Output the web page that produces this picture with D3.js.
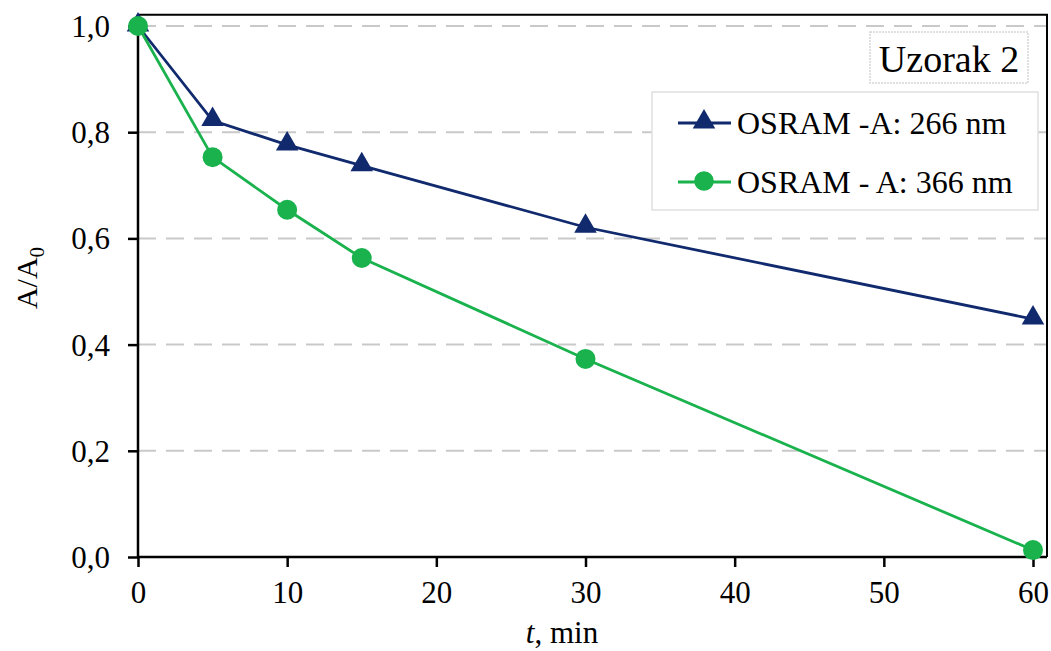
<!DOCTYPE html>
<html>
<head>
<meta charset="utf-8">
<script src="https://cdn.jsdelivr.net/npm/d3@7"></script>
<style>
  body { margin: 0; background: #fff; }
  text { font-family: "Liberation Serif", "Times New Roman", serif; fill: #000; }
</style>
</head>
<body>
<div id="chart"></div>
<script>
// data
const times = [0, 5, 10, 15, 30, 60];
const series266 = [1.0, 0.822, 0.776, 0.737, 0.621, 0.448];
const series366 = [1.0, 0.753, 0.654, 0.563, 0.373, 0.013];
const seriesNames = ["OSRAM -A: 266 nm", "OSRAM - A: 366 nm"];
const xTicks = [0, 10, 20, 30, 40, 50, 60];
const yTicks = [0, 0.2, 0.4, 0.6, 0.8, 1.0];

const WIDTH = 1051;
const HEIGHT = 651;
const LEFT = 138, RIGHT = 1033, TOP = 26, BOTTOM = 557;
const BLUE = "#112a6e";
const GREEN = "#19b24d";

const X_SCALE = d3.scaleLinear().domain([0, 60]).range([LEFT, RIGHT]);
const Y_SCALE = d3.scaleLinear().domain([0, 1]).range([BOTTOM, TOP]);

const svg = d3.select('#chart')
              .append('svg')
              .attr('width', WIDTH)
              .attr('height', HEIGHT);

// gridlines
svg.append('g')
   .selectAll('line')
   .data(yTicks.filter(d => d > 0))
   .enter()
   .append('line')
   .attr('x1', LEFT)
   .attr('x2', 1047)
   .attr('y1', d => Y_SCALE(d))
   .attr('y2', d => Y_SCALE(d))
   .attr('stroke', '#c9c9c9')
   .attr('stroke-width', 2)
   .attr('stroke-dasharray', '18,10');

// plot frame (top and right)
svg.append('path')
   .attr('d', `M${LEFT},${Y_SCALE(1.021)} H1047 V${BOTTOM}`)
   .attr('fill', 'none')
   .attr('stroke', '#000')
   .attr('stroke-width', 2);

// axes
const X_AXIS = d3.axisBottom(X_SCALE)
                 .tickValues(xTicks)
                 .tickSize(10)
                 .tickPadding(14)
                 .tickFormat(d3.format('d'));
const Y_AXIS = d3.axisLeft(Y_SCALE)
                 .tickValues(yTicks)
                 .tickSize(10)
                 .tickPadding(18)
                 .tickFormat(d => d3.format('.1f')(d).replace('.', ','));

const gx = svg.append('g')
   .attr('transform', 'translate(0,' + BOTTOM + ')')
   .call(X_AXIS);
gx.select('.domain').attr('d', `M${LEFT},0H1047`);

const gy = svg.append('g')
   .attr('transform', 'translate(' + LEFT + ',0)')
   .call(Y_AXIS);
gy.select('.domain').attr('d', `M0,${Y_SCALE(1.021)}V${BOTTOM}`);

svg.selectAll('.domain, .tick line')
   .attr('stroke', '#000')
   .attr('stroke-width', 2.5);
svg.selectAll('.tick text')
   .attr('font-family', '"Liberation Serif", serif')
   .attr('font-size', 31)
   .attr('fill', '#000');
gy.selectAll('.tick text').attr('dy', '0.34em');

// lines
const line = d3.line()
               .x((d, i) => X_SCALE(times[i]))
               .y(d => Y_SCALE(d));

svg.append('path')
   .datum(series266)
   .attr('d', line)
   .attr('fill', 'none')
   .attr('stroke', BLUE)
   .attr('stroke-width', 2.8);

svg.append('path')
   .datum(series366)
   .attr('d', line)
   .attr('fill', 'none')
   .attr('stroke', GREEN)
   .attr('stroke-width', 2.8);

const triangle = d3.symbol().type(d3.symbolTriangle).size(220);

svg.append('g')
   .selectAll('path')
   .data(series266)
   .enter()
   .append('path')
   .attr('d', triangle)
   .attr('transform', (d, i) => `translate(${X_SCALE(times[i])},${Y_SCALE(d) - 1})`)
   .attr('fill', BLUE);

svg.append('g')
   .selectAll('circle')
   .data(series366)
   .enter()
   .append('circle')
   .attr('cx', (d, i) => X_SCALE(times[i]))
   .attr('cy', d => Y_SCALE(d))
   .attr('r', 10)
   .attr('fill', GREEN);

// axis titles
svg.append('text')
   .attr('x', 562)
   .attr('y', 643)
   .attr('text-anchor', 'middle')
   .attr('font-size', 31)
   .html('<tspan font-style="italic">t</tspan>, min');

svg.append('text')
   .attr('transform', 'translate(37,278) rotate(-90)')
   .attr('text-anchor', 'middle')
   .attr('font-size', 30)
   .html('A/A<tspan font-size="21" dy="7">0</tspan>');

// sample label box
svg.append('rect')
   .attr('x', 870).attr('y', 32)
   .attr('width', 158).attr('height', 51)
   .attr('fill', '#fff')
   .attr('stroke', '#d6d6d6')
   .attr('stroke-width', 1.5)
   .attr('stroke-dasharray', '2,1');
svg.append('text')
   .attr('x', 949).attr('y', 72)
   .attr('text-anchor', 'middle')
   .attr('font-size', 38)
   .text('Uzorak 2');

// legend
svg.append('rect')
   .attr('x', 652).attr('y', 92)
   .attr('width', 386).attr('height', 118)
   .attr('fill', '#fff')
   .attr('stroke', '#e0e0e0')
   .attr('stroke-width', 1.5);

const legendRows = [123, 182];
const legendColors = [BLUE, GREEN];
const lg = svg.append('g')
   .selectAll('g')
   .data(seriesNames)
   .enter()
   .append('g')
   .attr('transform', (d, i) => `translate(0,${legendRows[i]})`);

lg.append('line')
  .attr('x1', 678).attr('x2', 731)
  .attr('stroke', (d, i) => legendColors[i])
  .attr('stroke-width', 2.8);
lg.append('path')
  .attr('d', (d, i) => i === 0 ? triangle() : d3.symbol().type(d3.symbolCircle).size(300)())
  .attr('transform', 'translate(704,-1)')
  .attr('fill', (d, i) => legendColors[i]);
lg.append('text')
  .attr('x', 737)
  .attr('dy', '0.34em')
  .attr('font-size', 32)
  .text(d => d);
</script>
</body>
</html>
